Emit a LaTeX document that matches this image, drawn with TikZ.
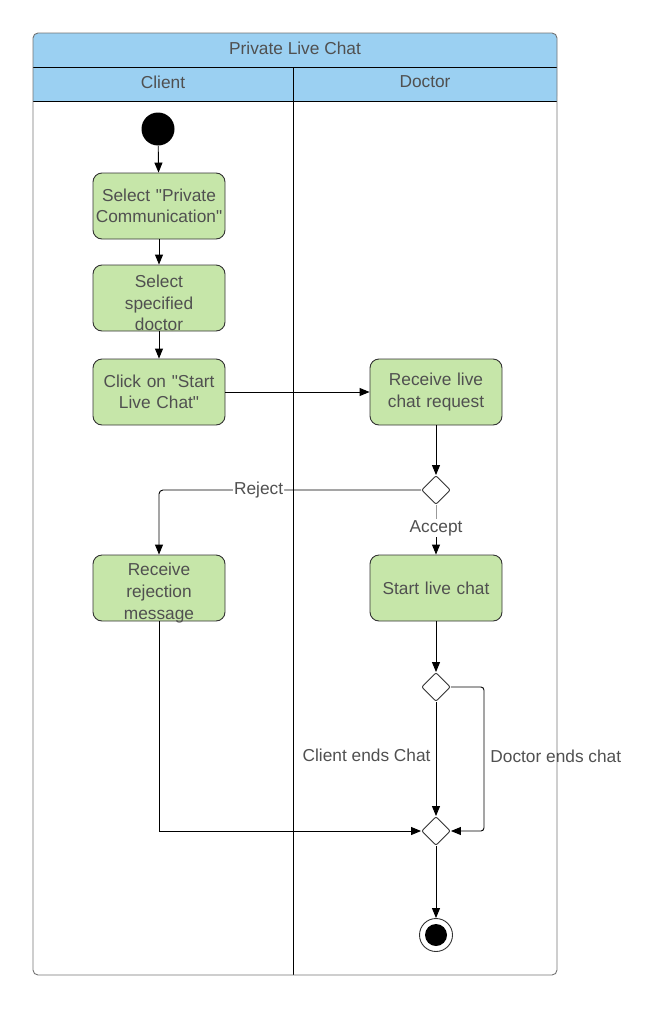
\documentclass[tikz,border=0pt]{standalone}
\usepackage{fontspec}
\setmainfont{Liberation Sans}[Ligatures=TeXOff]
\usepackage{xcolor}
\usetikzlibrary{positioning, arrows.meta, shapes.geometric}
\definecolor{lanefill}{HTML}{9BD0F2}
\definecolor{actfill}{HTML}{C6E6A9}
\definecolor{txtgray}{HTML}{505050}
\newcommand{\dgmfont}{\fontsize{17.3}{21.6}\selectfont}
\tikzset{every picture/.style={line width=0.9pt}}
\tikzset{act/.style={rectangle, rounded corners=9pt, draw=black!80, fill=actfill,
    minimum width=132pt, minimum height=66pt, text width=130pt, align=center,
    inner xsep=1pt, inner ysep=0pt},
  acttext/.style={text width=130pt, align=center, inner sep=0pt},
  decision/.style={diamond, draw=black!80, fill=white, rounded corners=2pt,
    minimum width=29pt, minimum height=29pt, inner sep=0pt},
  lbl/.style={fill=white, inner sep=1pt}}

\begin{document}
\begin{tikzpicture}[x=1pt,y=-1pt,>={Triangle[length=10pt,width=8pt]},
    every node/.append style={text=txtgray, font=\dgmfont}]
  \useasboundingbox (0,0) rectangle (658,1009);

  % swimlanes
  \fill [lanefill, rounded corners=5pt] (33,33) rectangle (557,101);
  \fill [lanefill] (33,60) rectangle (557,101);
  \draw (33,67) -- (557,67);
  \draw (33,101) -- (557,101);
  \draw (293,67) -- (293,975);
  \draw [draw=black!55, rounded corners=5pt] (33,33) rectangle (557,975);
  \node (title)  at (295,48) {Private Live Chat};
  \node (client) at (163,82) {Client};
  \node (doctor) at (425,82) {Doctor};

  % activities
  \node [circle, fill=black, minimum size=33pt, inner sep=0pt] (start) at (158,129) {};
  \node [act] (selpriv)    at (159,206) {Select "Private\\Communication"};
  \node [act] (seldoc)     at (159,298) {};
  \node [acttext] at ([yshift=-5pt]seldoc.center) {Select\\specified\\doctor};
  \node [act] (clickstart) at (159,392) {Click on "Start\\Live Chat"};
  \node [act] (recvreq)    at (436,392) {Receive live\\chat request};
  \node [decision] (dec1)  at (436,490) {};
  \node [lbl] (accept)     at (436,528) {Accept};
  \node [act] (rejmsg)     at (159,588) {};
  \node [acttext] at ([yshift=-5pt]rejmsg.center) {Receive\\rejection\\message};
  \node [act] (startchat)  at (436,588) {Start live chat};
  \node [decision] (dec2)  at (436,687) {};
  \node [decision] (dec3)  at (436,831) {};
  \node [circle, draw=black!80, minimum size=33pt, inner sep=0pt] (finish) at (436,935) {};
  \fill (finish.center) circle (11);

  % flows
  \draw [->] (start) -- (selpriv);
  \draw [->] (selpriv) -- (seldoc);
  \draw [->] (seldoc) -- (clickstart);
  \draw [->] (clickstart) -- (recvreq);
  \draw [->] (recvreq) -- (dec1);
  \draw [->, rounded corners=4pt] (dec1) -| node [lbl, pos=0.31] {Reject} (rejmsg);
  \draw [black!40] (dec1) -- (accept);
  \draw [->] (accept) -- (startchat);
  \draw [->] (startchat) -- (dec2);
  \draw [->] (dec2) -- node [left, pos=0.47, inner sep=5pt] {Client ends Chat} (dec3);
  \draw [->, rounded corners=3pt] (dec2.east) -- ++(33,0) |- node [right, pos=0.24, inner sep=6pt] {Doctor ends chat} (dec3.east);
  \draw [->] (rejmsg) |- (dec3);
  \draw [->] (dec3) -- (finish);
\end{tikzpicture}
\end{document}
